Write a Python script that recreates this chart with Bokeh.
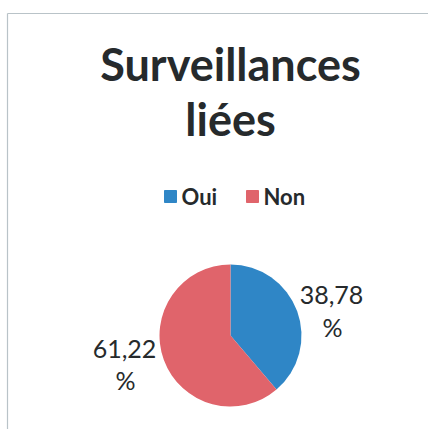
from bokeh.plotting import figure
from bokeh.models import Range1d
from bokeh.core.properties import value
from bokeh.embed import file_html
from bokeh.resources import INLINE
import math

categories = ["Oui", "Non"]
values = [38.78, 61.22]
colors = ["#2F86C6", "#E0646B"]
labels = ["38,78\n%", "61,22\n%"]
title_lines = ["Surveillances", "liées"]

W, H = 428, 429
p = figure(width=W, height=H, output_backend="svg", toolbar_location=None,
           x_range=Range1d(0, W), y_range=Range1d(445 - H, 445),
           min_border=0)
p.axis.visible = False
p.grid.visible = False
p.outline_line_color = None
p.background_fill_color = "white"
p.border_fill_color = "white"

FONT = value("Lato")
DARK = "#262a2c"

# frame lines of the scanned chart area
p.segment(x0=[7, 7], y0=[445 - 13, 445 - 13], x1=[7, 444], y1=[16, 445 - 13],
          line_color="#b9c3c8", line_width=1.2)

# title
p.text(x=[230, 230], y=[445 - 63, 445 - 118], text=title_lines, text_font=FONT,
       text_font_style="bold", text_font_size="45px", text_color=DARK,
       text_align="center", text_baseline="alphabetic")

# legend
lx = [170, 252]
p.rect(x=lx, y=[445 - 196] * 2, width=12, height=12, color=colors)
p.text(x=[x + 11 for x in lx], y=[445 - 196] * 2, text=categories, text_font=FONT,
       text_font_style="bold", text_font_size="22px", text_color=DARK,
       text_baseline="alphabetic")

# pie
cx, cy, r = 230, 445 - 335, 71
total = sum(values)
starts, ends = [], []
ang = math.pi / 2
for v in values:
    a = v / total * 2 * math.pi
    starts.append(ang - a)
    ends.append(ang)
    ang -= a
p.wedge(x=cx, y=cy, radius=r, start_angle=starts, end_angle=ends,
        fill_color=colors, line_color=None)

# data labels
lab_x = [331, 124]
p.text(x=lab_x, y=[445 - 294, 445 - 348], text=[l.split("\n")[0] for l in labels],
       text_font=FONT, text_font_size="25px", text_color=DARK, text_align="center",
       text_baseline="alphabetic")
p.text(x=[x + 1 for x in lab_x], y=[445 - 326, 445 - 379],
       text=[l.split("\n")[1] for l in labels], text_font=FONT,
       text_font_size="25px", text_color=DARK, text_align="center",
       text_baseline="alphabetic")

open("out.html", "w").write(file_html(p, INLINE))
